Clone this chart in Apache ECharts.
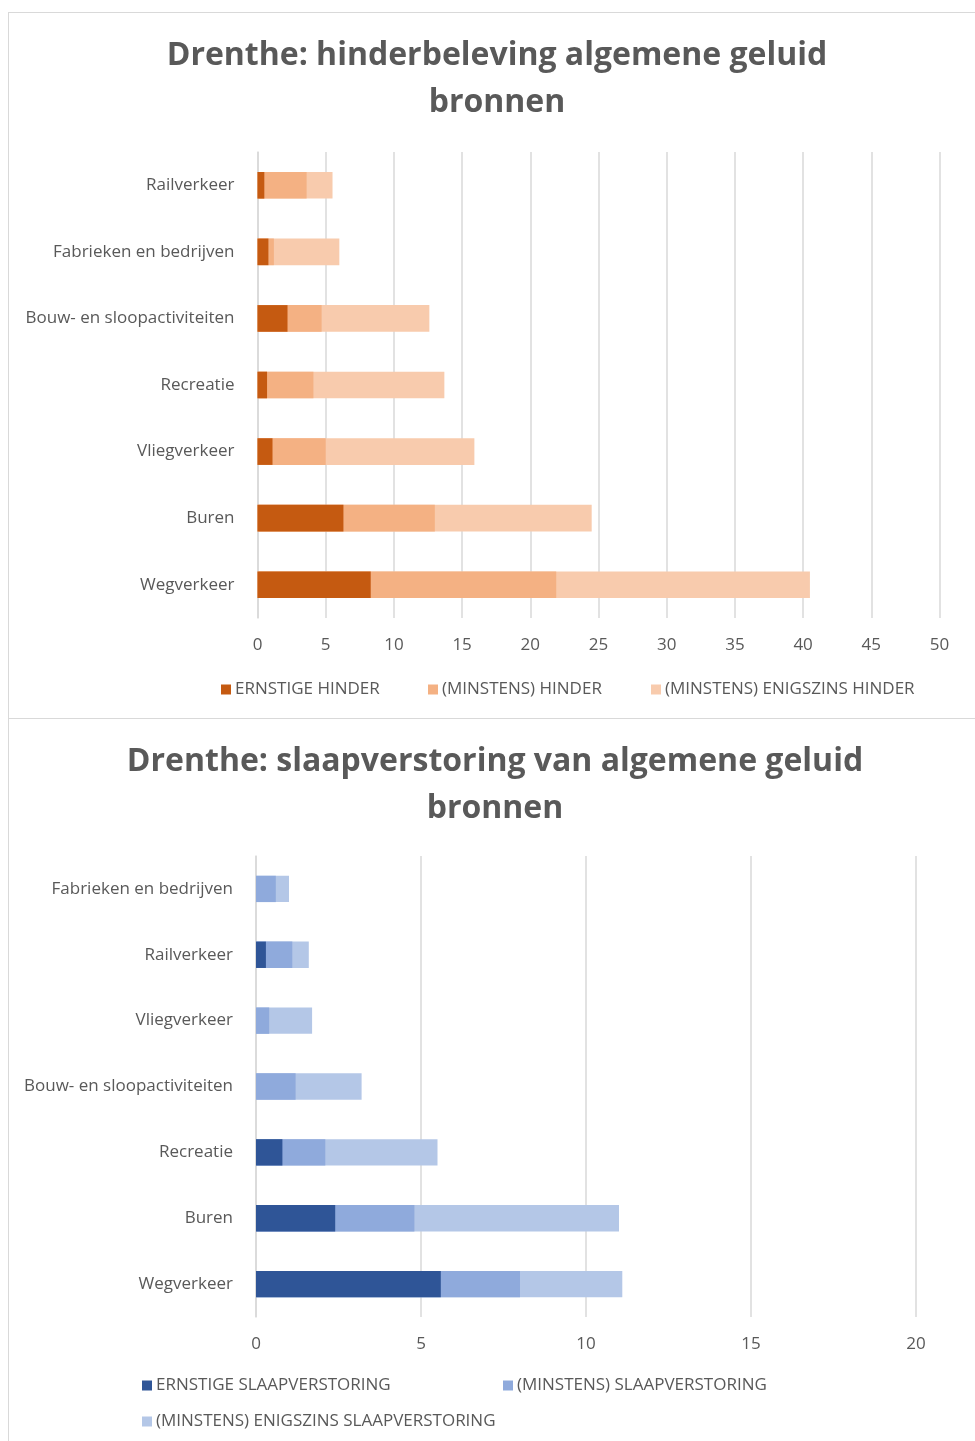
<!DOCTYPE html>
<html>
<head>
<meta charset="utf-8">
<script src="https://cdn.jsdelivr.net/npm/echarts@6/dist/echarts.min.js"></script>
<style>
  html, body { margin: 0; padding: 0; background: #fff; overflow: hidden; }
  body { width: 975px; height: 1441px; position: relative; }
  .box {
    position: absolute;
    left: 8px;
    width: 966px;
    border-left: 1px solid #d9d9d9;
    border-top: 1px solid #d9d9d9;
  }
  #hinder { top: 12px; height: 705px; }
  #slaap { top: 718px; height: 723px; }
</style>
</head>
<body>
<div id="hinder" class="box"></div>
<div id="slaap" class="box"></div>
<script>
// hinderbeleving (bottom -> top)
const hinderCats = ['Wegverkeer', 'Buren', 'Vliegverkeer', 'Recreatie', 'Bouw- en sloopactiviteiten', 'Fabrieken en bedrijven', 'Railverkeer'];
const ernstigeHinder = [8.3, 6.3, 1.1, 0.7, 2.2, 0.8, 0.5];
const minstensHinder = [21.9, 13.0, 5.0, 4.1, 4.7, 1.2, 3.6];
const enigszinsHinder = [40.5, 24.5, 15.9, 13.7, 12.6, 6.0, 5.5];
const hinderTicks = { min: 0, max: 50, interval: 5 };

// slaapverstoring (bottom -> top)
const slaapCats = ['Wegverkeer', 'Buren', 'Recreatie', 'Bouw- en sloopactiviteiten', 'Vliegverkeer', 'Railverkeer', 'Fabrieken en bedrijven'];
const ernstigeSlaap = [5.6, 2.4, 0.8, 0, 0, 0.3, 0];
const minstensSlaap = [8.0, 4.8, 2.1, 1.2, 0.4, 1.1, 0.6];
const enigszinsSlaap = [11.1, 11.0, 5.5, 3.2, 1.7, 1.6, 1.0];
const slaapTicks = { min: 0, max: 20, interval: 5 };

const FONT = 'Open Sans';
const TXT = '#595959';

function buildOption(cfg) {
  const series = cfg.series.map((s, i) => ({
    name: s.name,
    type: 'bar',
    data: s.data,
    barWidth: '40%',
    barGap: '-100%',
    z: 10 - i,
    itemStyle: { color: s.color },
    emphasis: { disabled: true }
  }));
  return {
    animation: false,
    textStyle: { fontFamily: FONT },
    title: {
      text: cfg.title,
      left: cfg.titleX,
      top: cfg.titleTop,
      textAlign: 'center',
      textStyle: { fontFamily: FONT, fontSize: 32, fontWeight: 'bold', color: TXT, lineHeight: 47 }
    },
    legend: cfg.legend.map(l => ({
      data: [l.name],
      left: l.x,
      top: l.y,
      icon: 'rect',
      itemWidth: 10,
      itemHeight: 10,
      itemGap: 6,
      textStyle: { fontFamily: FONT, fontSize: 17, color: TXT, padding: [0, 0, 0, -1] },
      selectedMode: false
    })),
    grid: cfg.grid,
    xAxis: {
      type: 'value',
      min: cfg.ticks.min,
      max: cfg.ticks.max,
      interval: cfg.ticks.interval,
      axisLine: { show: false },
      axisTick: { show: false },
      splitLine: { lineStyle: { color: '#d9d9d9', width: 1.5 } },
      axisLabel: { color: TXT, fontSize: 17, margin: 19, fontFamily: FONT }
    },
    yAxis: {
      type: 'category',
      data: cfg.cats,
      axisLine: { show: true, lineStyle: { color: '#d9d9d9', width: 1.5 } },
      axisTick: { show: false },
      axisLabel: { color: TXT, fontSize: 17, margin: 23, fontFamily: FONT }
    },
    series: series
  };
}

const chartHinder = echarts.init(document.getElementById('hinder'));
chartHinder.setOption(buildOption({
  title: 'Drenthe: hinderbeleving algemene geluid\nbronnen',
  titleX: 483,
  titleTop: 14,
  cats: hinderCats,
  ticks: hinderTicks,
  grid: { left: 248.5, right: 35.5, top: 139, height: 466 },
  legend: [
    { name: 'ERNSTIGE HINDER', x: 207, y: 663 },
    { name: '(MINSTENS) HINDER', x: 414, y: 663 },
    { name: '(MINSTENS) ENIGSZINS HINDER', x: 637, y: 663 }
  ],
  series: [
    { name: 'ERNSTIGE HINDER', data: ernstigeHinder, color: '#C55A11' },
    { name: '(MINSTENS) HINDER', data: minstensHinder, color: '#F4B183' },
    { name: '(MINSTENS) ENIGSZINS HINDER', data: enigszinsHinder, color: '#F8CBAD' }
  ]
}));

const chartSlaap = echarts.init(document.getElementById('slaap'));
chartSlaap.setOption(buildOption({
  title: 'Drenthe: slaapverstoring van algemene geluid\nbronnen',
  titleX: 481,
  titleTop: 14,
  cats: slaapCats,
  ticks: slaapTicks,
  grid: { left: 247, right: 59, top: 137, height: 461 },
  legend: [
    { name: 'ERNSTIGE SLAAPVERSTORING', x: 128, y: 653 },
    { name: '(MINSTENS) SLAAPVERSTORING', x: 489, y: 653 },
    { name: '(MINSTENS) ENIGSZINS SLAAPVERSTORING', x: 128, y: 689 }
  ],
  series: [
    { name: 'ERNSTIGE SLAAPVERSTORING', data: ernstigeSlaap, color: '#2F5597' },
    { name: '(MINSTENS) SLAAPVERSTORING', data: minstensSlaap, color: '#8FAADC' },
    { name: '(MINSTENS) ENIGSZINS SLAAPVERSTORING', data: enigszinsSlaap, color: '#B4C7E7' }
  ]
}));
</script>
</body>
</html>
